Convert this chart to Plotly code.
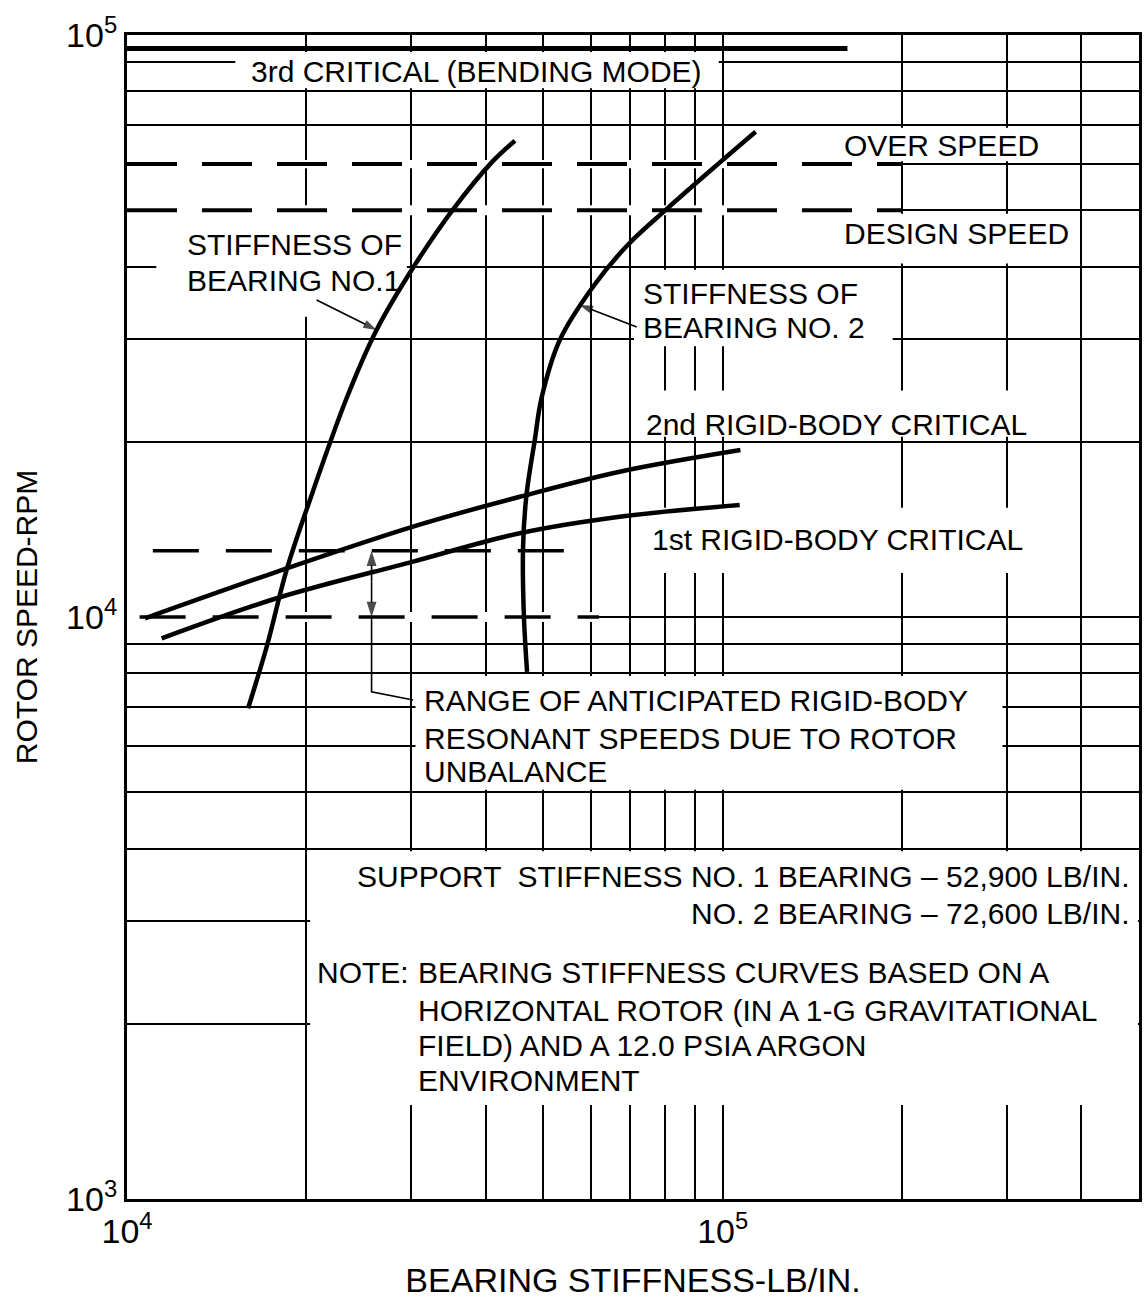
import math
import plotly.graph_objects as go

# ---------------- data ----------------
bearing1_stiffness = [15970, 17160, 18530, 20280, 23370, 26240, 30420, 35280, 40920, 44800]
bearing1_speed = [6970, 8890, 12040, 15890, 23760, 31130, 40250, 50170, 60350, 65800]

bearing2_stiffness = [46950, 46360, 46230, 46840, 48370, 49640, 53280, 60590, 69270, 80430, 98850, 113600]
bearing2_speed = [8050, 10150, 13210, 16200, 20140, 23760, 29920, 36940, 43570, 50170, 60350, 68200]

rigid1_stiffness = [11435, 17840, 30220, 45640, 67170, 106800]
rigid1_speed = [9190, 10770, 12450, 13930, 14870, 15570]

rigid2_stiffness = [10720, 17840, 30220, 45640, 67170, 107100]
rigid2_speed = [9950, 11960, 14300, 16090, 17770, 19360]

third_critical_stiffness = [10000, 162000]
third_critical_speed = [94800, 94800]

speed_line_stiffness = [10000, 200000]
over_speed = [60000, 60000]
design_speed = [50000, 50000]

resonance_upper_stiffness = [11050, 60000]
resonance_upper_speed = [13000, 13000]
resonance_lower_stiffness = [10500, 62000]
resonance_lower_speed = [10000, 10000]

# label pointers (tail -> head)
bearing1_pointer_stiffness = [20810, 26240]
bearing1_pointer_speed = [35060, 31130]
bearing2_pointer_stiffness = [71750, 57540]
bearing2_pointer_speed = [31500, 34370]
range_up_stiffness = [25740, 25740]
range_up_speed = [11500, 13000]
range_down_stiffness = [25740, 25740]
range_down_speed = [11500, 10000]
range_leader_stiffness = [25740, 25740, 30220]
range_leader_speed = [10000, 7440, 7200]

x_major_vals = [1e4, 1e5]
x_major_text = ["10<sup>4</sup>", "10<sup>5</sup>"]
x_minor_vals = [2e4, 3e4, 4e4, 5e4, 6e4, 7e4, 8e4, 9e4, 2e5, 3e5, 4e5, 5e5]
y_major_vals = [1e3, 1e4, 1e5]
y_major_text = ["10<sup>3</sup>", "10<sup>4</sup>", "10<sup>5</sup>"]
y_minor_vals = [2e3, 3e3, 4e3, 5e3, 6e3, 7e3, 8e3, 9e3,
                2e4, 3e4, 4e4, 5e4, 6e4, 7e4, 8e4, 9e4]

FONT = "Liberation Sans, Arial, sans-serif"
L = math.log10

fig = go.Figure()

def add_line(x, y, width, dash=None, shape="linear"):
    fig.add_trace(go.Scatter(
        x=x, y=y, mode="lines", showlegend=False, hoverinfo="skip",
        line=dict(color="black", width=width, dash=dash, shape=shape)))

def add_pointer(x, y, head):
    fig.add_trace(go.Scatter(
        x=x, y=y, mode="lines+markers", showlegend=False, hoverinfo="skip",
        line=dict(color="black", width=1.6),
        marker=dict(symbol="arrow", angleref="previous", color="black",
                    size=[0] * (len(x) - 1) + [head], line=dict(width=0))))

add_line(third_critical_stiffness, third_critical_speed, 5)
add_line(speed_line_stiffness, over_speed, 4, dash="50px,25px")
add_line(speed_line_stiffness, design_speed, 4, dash="50px,25px")
add_line(resonance_upper_stiffness, resonance_upper_speed, 3.5, dash="46px,27px")
add_line(resonance_lower_stiffness, resonance_lower_speed, 3.5, dash="46px,27px")
add_line(bearing1_stiffness, bearing1_speed, 4.5, shape="spline")
add_line(bearing2_stiffness, bearing2_speed, 4.5, shape="spline")
add_line(rigid1_stiffness, rigid1_speed, 4.5, shape="spline")
add_line(rigid2_stiffness, rigid2_speed, 4.5, shape="spline")
add_line(range_leader_stiffness, range_leader_speed, 1.6)
add_pointer(bearing1_pointer_stiffness, bearing1_pointer_speed, 14)
add_pointer(bearing2_pointer_stiffness, bearing2_pointer_speed, 14)
add_pointer(range_up_stiffness, range_up_speed, 16)
add_pointer(range_down_stiffness, range_down_speed, 16)

# white areas of the chart paper (grid erased behind the lettering)
masks = [
    (1.52e4, 0.985e5, 8.1e4, 9.35e4),   # 3rd critical label
    (1.55e5, 3.9e5, 6.07e4, 6.93e4),    # over speed label
    (1.55e5, 3.9e5, 4.05e4, 4.93e4),    # design speed label
    (1.0e4, 1.98e5, 5.9e4, 6.1e4),      # grid under over-speed dashes
    (1.0e4, 1.98e5, 4.9e4, 5.1e4),      # grid under design-speed dashes
    (1.0e4, 6.2e4, 9.8e3, 1.02e4),      # grid under lower resonance dashes
    (1.12e4, 2.95e4, 3.28e4, 4.93e4),   # bearing 1 label
    (7.1e4, 1.93e5, 2.92e4, 3.95e4),    # bearing 2 label
    (7.1e4, 3.6e5, 2.04e4, 2.45e4),     # 2nd rigid label
    (7.1e4, 3.6e5, 1.19e4, 1.54e4),     # 1st rigid label
    (3.05e4, 2.95e5, 5.05e3, 7.92e3),   # range label
    (2.03e4, 4.98e5, 1.45e3, 3.96e3),   # note block
]
for x0, x1, y0, y1 in masks:
    fig.add_shape(type="rect", xref="x", yref="y", x0=x0, x1=x1, y0=y0, y1=y1,
                  fillcolor="white", line=dict(width=0), layer="between")

# text labels: (text, log10 x, log10 y, anchor)
labels = [
    ("3rd CRITICAL (BENDING MODE)", 4.2047, 4.9369, "left"),
    ("OVER SPEED", 5.1997, 4.811, "left"),
    ("DESIGN SPEED", 5.1997, 4.6581, "left"),
    ("STIFFNESS OF", 4.0973, 4.6392, "left"),
    ("BEARING NO.1", 4.0973, 4.579, "left"),
    ("STIFFNESS OF", 4.8636, 4.555, "left"),
    ("BEARING NO. 2", 4.8636, 4.4974, "left"),
    ("2nd RIGID-BODY CRITICAL", 4.8674, 4.3316, "left"),
    ("1st RIGID-BODY CRITICAL", 4.8775, 4.134, "left"),
    ("RANGE OF ANTICIPATED RIGID-BODY", 4.4945, 3.8565, "left"),
    ("RESONANT SPEEDS DUE TO ROTOR", 4.4945, 3.7912, "left"),
    ("UNBALANCE", 4.4945, 3.7354, "left"),
    ("SUPPORT  STIFFNESS NO. 1 BEARING \u2013 52,900 LB/IN.", 5.6879, 3.5533, "right"),
    ("NO. 2 BEARING \u2013 72,600 LB/IN.", 5.6879, 3.4897, "right"),
    ("NOTE:", 4.3154, 3.39, "left"),
    ("BEARING STIFFNESS CURVES BASED ON A", 4.4849, 3.39, "left"),
    ("HORIZONTAL ROTOR (IN A 1-G GRAVITATIONAL", 4.4849, 3.3247, "left"),
    ("FIELD) AND A 12.0 PSIA ARGON", 4.4849, 3.2646, "left"),
    ("ENVIRONMENT", 4.4849, 3.2034, "left"),
]
for text, lx, ly, anchor in labels:
    fig.add_annotation(x=lx, y=ly, xref="x", yref="y", text=text, showarrow=False,
                       xanchor=anchor, yanchor="middle",
                       font=dict(family=FONT, size=30, color="black"))

grid_minor = dict(showgrid=True, gridcolor="black", gridwidth=1.5, ticks="")
axis_common = dict(
    type="log", showgrid=True, gridcolor="black", gridwidth=1.5,
    showline=True, linecolor="black", linewidth=3, mirror=True,
    ticks="", zeroline=False,
    tickfont=dict(family=FONT, size=34, color="black"),
)

fig.update_xaxes(**axis_common, range=[4, L(5e5)], tickmode="array",
                 tickvals=x_major_vals, ticktext=x_major_text,
                 minor=dict(tickmode="array", tickvals=x_minor_vals, **grid_minor),
                 title=dict(text="BEARING STIFFNESS-LB/IN.", standoff=22,
                            font=dict(family=FONT, size=34, color="black")))
fig.update_yaxes(**axis_common, range=[3, 5], tickmode="array",
                 tickvals=y_major_vals, ticktext=y_major_text,
                 minor=dict(tickmode="array", tickvals=y_minor_vals, **grid_minor),
                 title=dict(text="ROTOR SPEED-RPM", standoff=20,
                            font=dict(family=FONT, size=30, color="black")))

fig.update_layout(
    template="none",
    width=1146, height=1299,
    margin=dict(l=127, r=7, t=35, b=100),
    paper_bgcolor="white", plot_bgcolor="white",
    font=dict(family=FONT, color="black"),
    showlegend=False,
)

fig.write_html("out.html", config={"displayModeBar": False},
               post_script="document.body.style.margin='0px';")
